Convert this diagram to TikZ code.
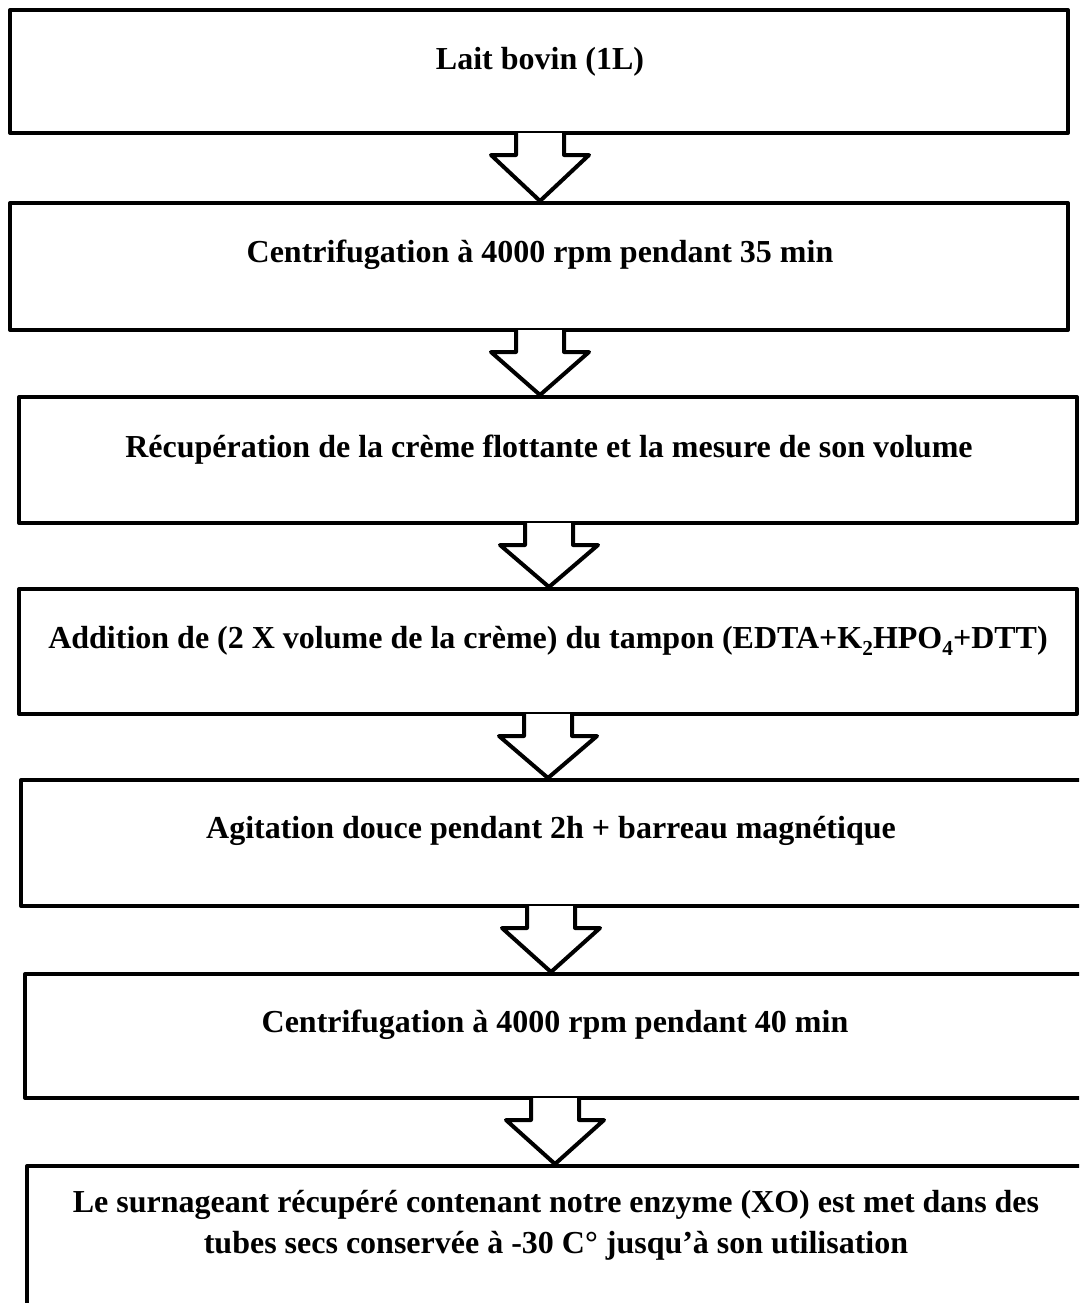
\documentclass[tikz,border=0pt]{standalone}
\usepackage{fontspec}
\setmainfont{Liberation Serif}
\usetikzlibrary{calc}
\newcommand\blockarrow[3]{%
  \draw[blk] let \p1=(#1.base), \p2=(#2.south), \p3=(#3.north) in
    (\x1-18pt,\y2+1.5pt) -- (\x1-18pt,\y2-15pt) -- (\x1-36.75pt,\y2-15pt) --
    (\x1,\y3) -- (\x1+36.75pt,\y2-15pt) -- (\x1+18pt,\y2-15pt) -- (\x1+18pt,\y2+1.5pt);
}
\newcommand\lowsub[1]{\raisebox{-0.22em}{\fontsize{16pt}{16pt}\selectfont #1}}
\begin{document}
\begin{tikzpicture}[x=0.75pt,y=-0.75pt,
  box/.style={draw=black, line width=3pt, rectangle, inner sep=0pt, line join=round},
  lbl/.style={font=\fontsize{24pt}{30.75pt}\selectfont\bfseries, anchor=base, align=center, inner sep=0pt},
  blk/.style={draw=black, line width=3pt, line join=round, fill=white}]
\useasboundingbox (0,0) rectangle (1079,1303);
\clip (0,0) rectangle (1079,1303);

\node[box, minimum width={1058*0.75pt}, minimum height={123*0.75pt}] (b1) at (539,71.5) {};
\node[box, minimum width={1058*0.75pt}, minimum height={127*0.75pt}] (b2) at (539,266.5) {};
\node[box, minimum width={1058*0.75pt}, minimum height={126*0.75pt}] (b3) at (548,460) {};
\node[box, minimum width={1058*0.75pt}, minimum height={125*0.75pt}] (b4) at (548,651.5) {};
\node[box, minimum width={1079*0.75pt}, minimum height={126*0.75pt}] (b5) at (560.5,843) {};
\node[box, minimum width={1075*0.75pt}, minimum height={124*0.75pt}] (b6) at (562.5,1036) {};
\node[box, minimum width={1073*0.75pt}, minimum height={164*0.75pt}] (b7) at (563.5,1248) {};

\node[lbl] (t1) at (540,69) {Lait bovin (1L)};
\node[lbl] (t2) at (540,262) {Centrifugation à 4000 rpm pendant 35 min};
\node[lbl] (t3) at (549,457) {Récupération de la crème flottante et la mesure de son volume};
\node[lbl] (t4) at (548,648) {Addition de (2 X volume de la crème) du tampon (EDTA+K\lowsub{2}HPO\lowsub{4}+DTT)};
\node[lbl] (t5) at (551,838) {Agitation douce pendant 2h + barreau magnétique};
\node[lbl] (t6) at (555,1032) {Centrifugation à 4000 rpm pendant 40 min};
\node[lbl] (t7) at (556,1253) {Le surnageant récupéré contenant notre enzyme (XO) est met dans des\\tubes secs conservée à -30 C° jusqu’à son utilisation};

\blockarrow{t1}{b1}{b2}
\blockarrow{t2}{b2}{b3}
\blockarrow{t3}{b3}{b4}
\blockarrow{t4}{b4}{b5}
\blockarrow{t5}{b5}{b6}
\blockarrow{t6}{b6}{b7}
\end{tikzpicture}
\end{document}
